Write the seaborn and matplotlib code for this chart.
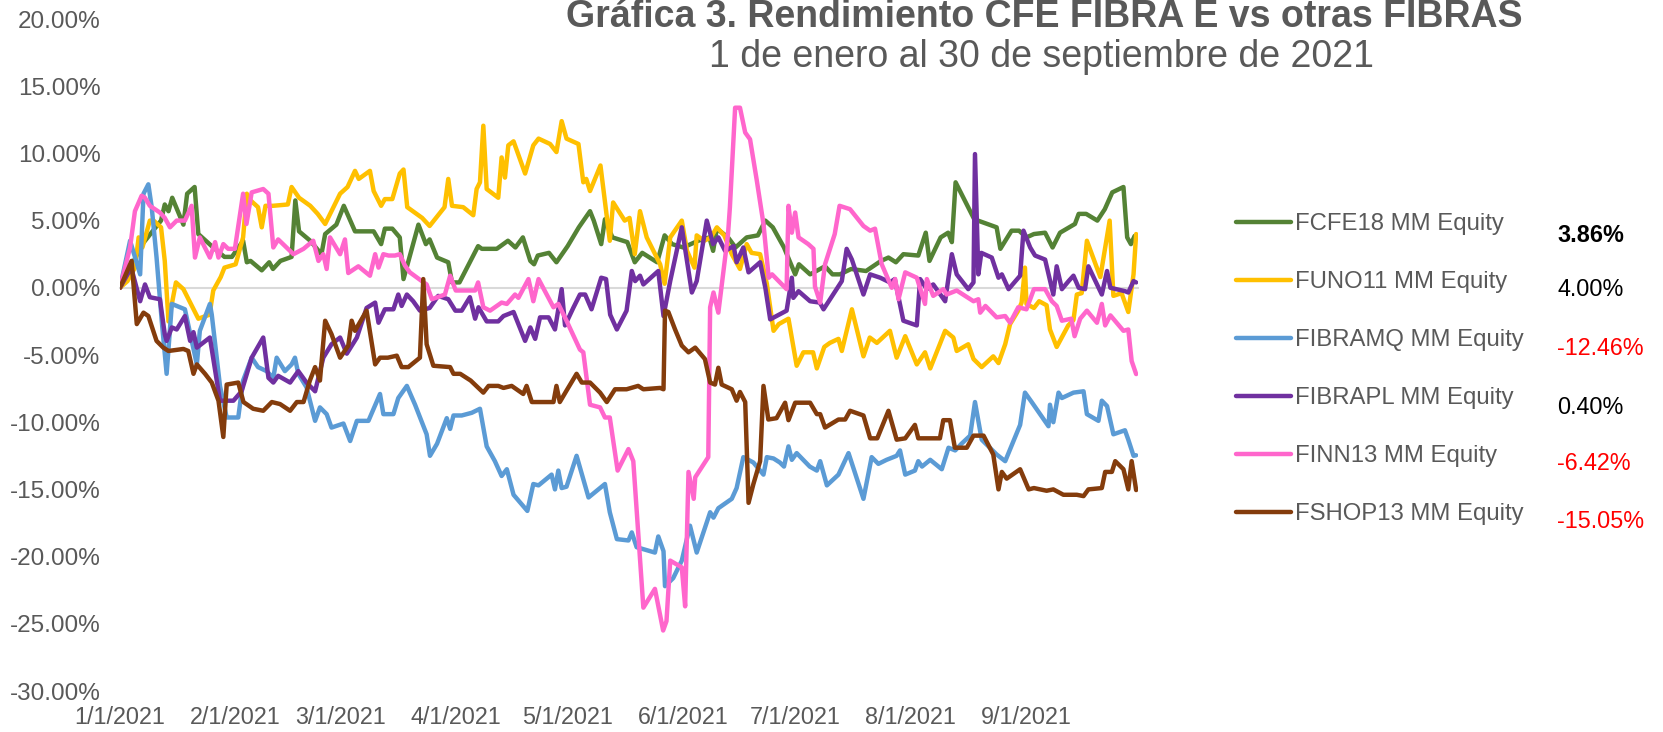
import pandas as pd
import matplotlib.pyplot as plt
import matplotlib.dates as mdates
import matplotlib.ticker as mtick
import seaborn as sns

start = pd.Timestamp('2021-01-01')

series_names = ['FCFE18 MM Equity', 'FUNO11 MM Equity', 'FIBRAMQ MM Equity',
                'FIBRAPL MM Equity', 'FINN13 MM Equity', 'FSHOP13 MM Equity']
colors = ['#548235', '#FFC000', '#5B9BD5', '#7030A0', '#FF66CC', '#843C0C']
final_returns = ['3.86%', '4.00%', '-12.46%', '0.40%', '-6.42%', '-15.05%']
final_colors = ['black', 'black', '#FF0000', 'black', '#FF0000', '#FF0000']

# days since 1/1/2021 and cumulative return (%)
fcfe18_days = [0, 6, 11, 12, 13, 14, 17, 18, 20, 21, 23, 25, 28, 30, 33, 34, 35, 38, 40, 41, 43, 46, 47, 48, 51,
               54, 55, 58, 60, 63, 68, 70, 71, 73, 75, 76, 80, 82, 83, 85, 88, 89, 91, 96, 97, 101, 104, 106, 108,
               110, 111, 112, 115, 117, 120, 123, 126, 127, 129, 130, 132, 136, 138, 140, 144, 146, 148, 151, 155,
               158, 159, 160, 163, 165, 168, 171, 173, 175, 178, 181, 182, 185, 189, 191, 193, 196, 200, 204, 206,
               208, 210, 214, 216, 217, 220, 222, 223, 224, 227, 229, 231, 235, 236, 239, 241, 243, 245, 248, 250,
               252, 256, 257, 259, 262, 264, 266, 269, 270, 271, 272]
fcfe18_vals = [0, 3.25, 5.0, 6.2, 5.7, 6.7, 4.7, 7.0, 7.5, 4.0, 3.5, 3.0, 2.3, 2.3, 3.5, 1.9, 2.0, 1.3, 1.9, 1.4,
               2.0, 2.3, 6.5, 4.2, 3.5, 2.5, 4.0, 4.7, 6.1, 4.2, 4.2, 3.25, 4.4, 4.4, 3.75, 0.65, 4.7, 3.25, 3.6,
               2.25, 1.9, 0.4, 0.4, 3.1, 2.9, 2.9, 3.5, 3.0, 3.75, 2.0, 1.75, 2.4, 2.6, 1.9, 3.1, 4.5, 5.7, 5.0,
               3.25, 5.1, 3.75, 3.4, 1.9, 2.6, 1.9, 3.9, 3.25, 3.0, 3.5, 3.75, 2.75, 4.4, 3.75, 3.0, 3.75, 3.9,
               5.0, 4.5, 3.0, 1.0, 1.75, 1.0, 1.6, 1.0, 1.0, 1.4, 1.25, 2.0, 2.25, 1.9, 2.5, 2.4, 4.1, 2.0, 3.75,
               4.1, 3.4, 7.85, 6.2, 5.1, 4.9, 4.5, 2.9, 4.25, 4.25, 3.75, 4.0, 4.1, 3.0, 4.1, 4.75, 5.5, 5.5, 5.0,
               5.85, 7.1, 7.5, 3.75, 3.25, 3.86]

funo11_days = [0, 2, 4, 5, 6, 8, 9, 11, 12, 13, 15, 17, 19, 21, 24, 25, 27, 28, 31, 33, 34, 35, 37, 38, 39, 41,
               45, 46, 48, 51, 53, 55, 59, 61, 63, 64, 67, 68, 70, 71, 73, 75, 76, 77, 79, 81, 83, 87, 88, 89, 92,
               94.7, 95.6, 96.5, 97.4, 98.3, 101.4, 102.3, 103.2, 104.1, 105.5, 108.6, 110.8, 112.2, 115.3, 117,
               118.4, 119.7, 122.9, 124.2, 125, 126, 128.8, 131.3, 132.2, 135.3, 136.6, 138, 139.4, 141.2, 142.1,
               144.8, 146, 147.5, 150.6, 152, 154, 154.6, 156.6, 158.4, 160, 162, 164, 166.2, 168, 169.3, 171.6,
               173.4, 175.2, 176.6, 179.2, 181.4, 183.2, 185.8, 186.8, 188.8, 190.3, 192.6, 193.5, 196.2, 199.3,
               201, 202.9, 206.4, 208.2, 210.5, 213.6, 215.8, 217.2, 221.2, 223.4, 224.3, 227.4, 228.8, 231, 234.1,
               235.5, 237.3, 238.6, 240.8, 241.7, 242.6, 243, 245, 246.4, 248.4, 249.3, 251.1, 254.2, 255.6, 256.5,
               257.8, 259.2, 262.8, 265.3, 266.3, 268.5, 270.3, 271.7, 272.4]
funo11_vals = [0, 0.5, 1.5, 3.75, 3.0, 5.0, 5.0, 4.5, 2.0, -2.5, 0.4, -0.1, -1.2, -2.3, -2.0, -0.2, 0.8, 1.5, 1.75,
               3.75, 7.0, 6.5, 6.0, 4.5, 6.1, 6.1, 6.2, 7.5, 6.7, 6.1, 5.5, 4.75, 7.0, 7.5, 8.7, 8.1, 8.7, 7.2,
               6.1, 6.6, 6.6, 8.5, 8.8, 6.0, 5.6, 5.2, 4.6, 6.0, 8.1, 6.1, 6.0, 5.4, 7.35, 7.85, 12.06, 7.35, 6.7,
               9.7, 8.2, 10.6, 10.9, 8.5, 10.6, 11.1, 10.7, 10.1, 12.4, 11.1, 10.7, 7.85, 8.1, 7.2, 9.1, 3.5, 6.35,
               5.0, 5.2, 2.5, 5.7, 3.75, 3.25, 1.75, 0.3, 3.75, 5.0, 2.75, 1.5, 3.9, 3.5, 3.75, 4.5, 3.9, 2.5,
               1.4, 3.25, 2.6, 2.5, 0.3, -3.2, -2.7, -2.3, -5.8, -4.8, -4.8, -6.0, -4.4, -4.1, -3.8, -4.7, -1.6,
               -5.1, -3.7, -4.1, -3.2, -5.2, -3.6, -5.7, -4.8, -6.0, -3.2, -3.7, -4.7, -4.2, -5.3, -5.9, -5.1,
               -5.6, -4.2, -2.7, -1.7, -1.1, 1.5, -1.2, -1.5, -1.0, -1.3, -3.1, -4.4, -2.8, -2.4, -0.5, -0.4, 3.5,
               0.8, 5.0, -0.6, -0.4, -1.8, 1.0, 4.0]

fibramq_days = [0, 2.7, 5.4, 6.3, 7.6, 8.5, 9.8, 11.2, 12.5, 13.9, 17.4, 18.8, 20.6, 21.4, 24.1, 24.6, 26.8, 28.6,
                31.7, 33, 35.3, 37, 39.3, 41.1, 42, 44.2, 46, 46.9, 47.8, 50, 52.3, 53.6, 55.4, 56.7, 59.9, 61.7,
                63.5, 66.6, 69.7, 70.6, 73.3, 74.6, 76.9, 79.1, 82.2, 83.1, 85, 87.6, 88.5, 89.4, 91.6, 94.3, 96.5,
                98.3, 100.5, 102.3, 103.7, 105.5, 109.2, 110.8, 112.2, 115.7, 116.6, 117.5, 118.4, 119.7, 122.4,
                125.6, 130, 131.3, 133.2, 136.3, 137.2, 138.5, 143.4, 144.3, 145.7, 146.1, 148.3, 150.6, 152.8,
                154.6, 158.2, 159.1, 160.4, 164, 165.3, 167.1, 169.8, 172.5, 173.4, 175.2, 176.9, 178, 179.2,
                180.1, 181.4, 184.9, 186.8, 187.7, 189.5, 192.6, 195.3, 199.3, 201.5, 203.3, 205.5, 208.2, 209.1,
                210.5, 213.1, 214, 215, 217.2, 220.3, 222.1, 223.9, 225.6, 227.9, 229.2, 231, 235, 237.3, 241.3,
                242.6, 244.4, 248.9, 249.3, 250.2, 251.6, 252.5, 255.6, 258.3, 259.2, 262.3, 263.2, 264.6, 266.3,
                269.4, 270.3, 271.7, 272.4]
fibramq_vals = [0, 3.5, 1.0, 7.0, 7.7, 6.0, 2.25, -2.5, -6.4, -1.2, -1.6, -3.4, -5.7, -3.2, -1.2, -2.0, -7.3, -9.65,
                -9.65, -6.9, -5.2, -5.9, -6.2, -6.7, -5.2, -6.2, -5.7, -5.2, -6.4, -7.4, -9.9, -8.9, -9.4, -10.4,
                -10.1, -11.4, -9.9, -9.9, -7.9, -9.4, -9.4, -8.2, -7.3, -8.7, -10.9, -12.5, -11.6, -9.7, -10.5,
                -9.5, -9.5, -9.3, -9.0, -11.8, -12.9, -14.0, -13.5, -15.4, -16.6, -14.6, -14.7, -13.9, -15.0,
                -13.6, -14.9, -14.8, -12.5, -15.6, -14.6, -16.7, -18.7, -18.8, -18.2, -19.3, -19.7, -18.5, -19.6,
                -22.2, -21.6, -20.3, -17.7, -19.7, -16.7, -17.1, -16.4, -15.7, -14.9, -12.6, -13.0, -13.9, -12.6,
                -12.7, -13.0, -13.3, -11.8, -12.8, -12.3, -13.3, -13.6, -12.9, -14.7, -13.9, -12.3, -15.7, -12.6,
                -13.1, -12.8, -12.5, -12.1, -13.9, -13.6, -12.9, -13.3, -12.8, -13.5, -11.9, -12.1, -11.6, -11.0,
                -8.5, -11.3, -12.4, -12.9, -10.2, -7.8, -8.5, -10.3, -8.7, -10.0, -7.8, -8.2, -7.8, -7.7, -9.4,
                -9.9, -8.4, -8.8, -10.9, -10.6, -11.3, -12.5, -12.46]

fibrapl_days = [0, 3, 5.4, 6.7, 8, 10.7, 12, 12.5, 13.9, 15.2, 17.4, 18.8, 19.7, 20.6, 24.1, 26.8, 30.4, 32.6, 35.3,
                38.4, 39.8, 41.1, 42.4, 45.6, 47.8, 50, 52.3, 54.5, 56.7, 59, 60.8, 63.5, 66.1, 68.4, 69.3, 71,
                73.3, 74.6, 75.5, 76.9, 78.6, 80.4, 83, 85.3, 88, 89.9, 91.6, 93.8, 95.2, 96.1, 98.3, 101.4, 102.8,
                105.5, 108.6, 110, 111.3, 112.6, 114.9, 116.6, 118.4, 119.3, 121.5, 123.3, 124.7, 126.4, 129,
                130.3, 131.4, 133.2, 135.8, 137.2, 138.1, 139.4, 140.3, 144.3, 145.7, 147.5, 150.6, 153.3, 154.6,
                157.3, 159, 160.4, 162.2, 164.5, 165.3, 167.1, 168.5, 171.6, 173, 174.3, 178.7, 180.1, 180.5,
                181.9, 185, 187.6, 188.6, 193.5, 194.8, 196.2, 199.3, 201.1, 203.8, 206.4, 207.7, 210, 213.6,
                214.5, 216.3, 218, 221.2, 223, 224.3, 227.4, 228.8, 229.2, 230.1, 230.9, 233.7, 235.5, 236.4,
                238.2, 241.3, 242.2, 244, 245.3, 248, 250.2, 251.1, 252.5, 254.3, 255.6, 257, 258.7, 259.6, 263.2,
                264.6, 265.5, 269.4, 270.3, 271.7, 272.4]
fibrapl_vals = [0, 1.5, -1.0, 0.25, -0.7, -0.85, -3.45, -3.95, -2.95, -3.1, -2.1, -3.95, -3.3, -4.45, -3.7, -8.4,
                -8.4, -7.7, -5.2, -3.7, -6.7, -7.05, -6.55, -7.05, -6.2, -7.05, -7.7, -5.2, -4.2, -3.7, -4.9, -3.7,
                -1.5, -1.1, -2.6, -1.6, -1.6, -0.5, -1.35, -0.5, -1.0, -1.7, -1.5, -0.6, -0.85, -1.7, -1.7, -0.7,
                -2.3, -1.45, -2.5, -2.5, -2.1, -1.8, -3.95, -2.95, -3.8, -2.2, -2.2, -3.1, -0.1, -2.8, -1.5, -0.5,
                -0.5, -1.6, 0.75, 0.65, -2.0, -3.1, -1.7, 1.25, 0.5, 0.9, 0.25, 1.25, -2.1, 0.5, 4.5, -0.35, 0.5,
                5.0, 3.25, 3.75, 2.75, 3.1, 1.9, 3.0, 1.15, 1.9, 0.0, -2.35, -1.7, 0.75, -0.75, -0.25, -1.0, -1.1,
                -1.6, 0.5, 2.9, 2.1, -0.5, 1.0, 0.75, 0.4, 0.65, -2.45, -2.8, 0.65, -0.1, 0.25, -1.0, 2.5, 1.0,
                -0.1, 0.4, 9.95, 1.0, 2.6, 2.25, 0.75, 1.0, -0.1, 0.9, 4.25, 3.0, 2.4, 2.1, -0.5, 1.6, -0.1, 0.5,
                0.9, 0.0, -0.1, 1.6, -0.5, 1.25, 0.0, -0.25, -0.35, 0.5, 0.40]

finn13_days = [0, 2.7, 4, 5.8, 6.7, 8, 10.7, 12, 13.4, 15.2, 17.4, 19.2, 20.1, 21.4, 24.1, 25.5, 26.4, 27.7, 29,
               30.8, 33, 33.9, 35.3, 38.4, 39.8, 41.1, 42.4, 46.5, 49.2, 51.8, 53.2, 54.5, 55.4, 56.3, 59, 60.3,
               61.2, 63.9, 67, 68.4, 69.3, 70.6, 72, 73.7, 75, 76.4, 77.7, 80.9, 82.2, 83.6, 87.1, 88.5, 90, 95.2,
               96, 97.4, 99.2, 102.3, 103.7, 105.9, 106.8, 109.5, 110.8, 112.2, 114.4, 116.2, 117.5, 119.7, 123.3,
               124.2, 126, 128.7, 130, 131.3, 133.4, 136.3, 137.6, 140.3, 143.4, 145.6, 146.5, 147.5, 150.6,
               151.5, 152.4, 153.8, 154.2, 157.7, 158.2, 159.1, 160.4, 163, 163.5, 164.9, 166.2, 167.6, 168.9,
               170.7, 172.5, 173.9, 174.8, 178.7, 179.2, 180.1, 181, 181.9, 184.5, 185.9, 186.3, 187.7, 189,
               191.6, 192.9, 195.7, 199.3, 201.1, 202.4, 204.2, 206.9, 207.8, 208.7, 210.5, 213.6, 215.8, 216.3,
               218, 220.7, 221.6, 224.3, 228.8, 230.1, 230.6, 232, 235, 237.3, 238.6, 240.8, 243, 245, 248, 249.8,
               251.1, 252.5, 255, 255.9, 257.4, 259.2, 261.9, 263.2, 264.1, 265.5, 269, 270.3, 271.2, 272.4]
finn13_vals = [0, 3.0, 5.7, 6.85, 6.7, 6.1, 5.6, 5.2, 4.5, 5.0, 5.0, 6.1, 2.25, 3.75, 2.25, 3.4, 2.25, 3.25, 2.9,
               2.9, 7.0, 4.75, 7.1, 7.35, 7.0, 3.0, 3.6, 2.5, 2.9, 3.5, 2.0, 2.5, 1.4, 3.75, 2.5, 3.6, 1.1, 1.6,
               0.9, 2.5, 1.5, 2.5, 2.4, 2.4, 2.5, 1.65, 1.15, 0.5, 0.25, -0.85, -0.5, 0.9, -0.2, -0.2, 0.4, -1.45,
               -1.7, -1.1, -1.2, -0.5, -0.75, 0.65, -1.0, 0.65, -0.5, -1.45, -1.2, -2.45, -4.6, -4.8, -8.7, -8.9,
               -9.65, -9.65, -13.6, -12.0, -12.9, -23.8, -22.4, -25.5, -24.8, -20.3, -20.8, -23.7, -13.7, -15.7,
               -14.1, -12.6, -1.45, -0.35, -1.85, 4.0, 6.0, 13.4, 13.4, 11.55, 11.05, 8.0, 4.75, 0.75, 1.0, -0.1,
               6.1, 4.1, 5.6, 3.75, 3.25, 2.9, 0.1, -1.1, 1.75, 4.0, 6.1, 5.85, 4.6, 4.25, 4.4, 1.75, 0.0, 0.65,
               -0.85, 1.15, 0.75, -1.2, 0.65, -0.6, -0.1, -0.5, -0.2, -1.0, -0.85, -1.85, -1.35, -2.2, -2.1, -2.6,
               -1.45, -1.6, -0.1, -0.1, -1.0, -1.35, -2.45, -2.3, -3.6, -2.3, -1.7, -2.6, -1.2, -2.8, -2.05, -3.2,
               -3.1, -5.45, -6.42]

fshop13_days = [0, 3.1, 4.5, 6.3, 7.6, 9.8, 11.6, 13, 17, 18.3, 19.7, 20.6, 22.8, 24.6, 26.4, 27.7, 28.6, 31.7,
                33.1, 35.7, 38.4, 40.7, 42.9, 45.6, 47.4, 49.2, 50.9, 52.3, 53.6, 55, 56.7, 59, 61.2, 62.1, 63,
                66.1, 68.4, 69.7, 71.8, 74.2, 75.5, 77.3, 80.4, 81.3, 82.2, 84, 88.5, 89.4, 91.2, 94, 97.4, 98.8,
                101.4, 102.8, 105, 108.1, 109, 110.4, 116.2, 117, 117.9, 119.7, 122.4, 123.8, 126, 128.7, 130.5,
                132.7, 135.8, 138.9, 140.3, 144.8, 145.7, 146.1, 147, 148.8, 150.6, 152.4, 154.2, 156.8, 158.2,
                159.5, 160.4, 161.3, 164, 165.3, 166.2, 167.6, 168.5, 169.8, 171.6, 172.5, 173.8, 176, 178.3,
                179.2, 181, 185, 186.8, 187.7, 189, 192.6, 194.4, 195.7, 199.3, 201.1, 203, 206, 208.2, 210.5,
                213.1, 214, 219.8, 220.7, 222.5, 223.8, 227, 228.8, 231.5, 234.1, 235.5, 236.4, 237.7, 241.3,
                243.6, 245, 248.4, 250.2, 252.9, 256.5, 258.3, 259.6, 263.2, 264.1, 265.9, 266.8, 269, 270.3,
                271.2, 272.4]
fshop13_vals = [0, 2.0, -2.7, -1.85, -2.1, -3.95, -4.45, -4.7, -4.55, -4.7, -6.4, -5.7, -6.4, -7.05, -8.4, -11.1,
                -7.2, -7.05, -8.5, -9.0, -9.15, -8.5, -8.65, -9.15, -8.5, -8.5, -6.9, -5.9, -6.9, -2.45, -3.45,
                -5.2, -4.3, -2.45, -3.2, -1.7, -5.7, -5.2, -5.2, -5.05, -5.9, -5.9, -5.2, 0.65, -4.2, -5.8, -5.9,
                -6.4, -6.4, -6.9, -7.8, -7.3, -7.3, -7.45, -7.3, -7.9, -7.3, -8.5, -8.5, -7.3, -8.5, -7.65, -6.4,
                -7.05, -7.05, -7.8, -8.5, -7.55, -7.55, -7.3, -7.55, -7.45, -7.55, -1.7, -1.8, -3.1, -4.3, -4.8,
                -4.45, -5.3, -7.05, -7.2, -5.95, -7.2, -7.55, -8.4, -7.75, -8.5, -16.0, -14.6, -12.9, -7.3, -9.8,
                -9.7, -8.55, -9.85, -8.55, -8.55, -9.4, -9.4, -10.4, -9.8, -9.8, -9.15, -9.5, -11.2, -11.2, -9.15,
                -11.3, -11.2, -10.2, -11.2, -11.2, -9.85, -9.85, -11.9, -11.9, -11.0, -11.0, -12.4, -15.0, -13.7,
                -14.2, -13.5, -15.0, -14.9, -15.1, -15.0, -15.4, -15.4, -15.5, -15.0, -14.9, -13.7, -13.7, -12.9,
                -13.5, -15.0, -12.9, -15.05]

all_days = [fcfe18_days, funo11_days, fibramq_days, fibrapl_days, finn13_days, fshop13_days]
all_vals = [fcfe18_vals, funo11_vals, fibramq_vals, fibrapl_vals, finn13_vals, fshop13_vals]

frames = []
for name, d, v in zip(series_names, all_days, all_vals):
    frames.append(pd.DataFrame({'fecha': start + pd.to_timedelta(d, unit='D'),
                                'rend': v, 'serie': name}))
df = pd.concat(frames, ignore_index=True)

sns.set_style('white')
plt.rcParams['font.family'] = ['Liberation Sans', 'DejaVu Sans']
grey = '#595959'

fig = plt.figure(figsize=(16.63, 7.32), dpi=100)
ax = fig.add_axes([120 / 1663, 41 / 732, 1018 / 1663, 672 / 732])

sns.lineplot(data=df, x='fecha', y='rend', hue='serie', hue_order=series_names,
             palette=colors, linewidth=3.2, estimator=None, sort=False,
             legend=False, ax=ax)
handles = list(ax.get_lines())

ax.set_ylim(-30, 20)
ax.set_yticks(range(-30, 21, 5))
ax.yaxis.set_major_formatter(mtick.FuncFormatter(lambda v, _: f'{v:.2f}%'))
ax.set_xlim(start, start + pd.Timedelta(days=272.9))
ax.set_xlabel('')
ax.set_ylabel('')

for s in ['top', 'right', 'left']:
    ax.spines[s].set_visible(False)
ax.spines['bottom'].set_position(('data', 0))
ax.spines['bottom'].set_color('#D9D9D9')
ax.spines['bottom'].set_linewidth(1.5)
ax.spines['bottom'].set_zorder(0)

ax.xaxis.set_major_locator(mdates.MonthLocator())
ax.tick_params(axis='x', direction='out', length=6, width=1.5, color='#D9D9D9',
               labelbottom=False)
ax.tick_params(axis='y', length=0, pad=14, labelsize=17.5, labelcolor=grey)

# date labels sit at the bottom of the plot, not on the zero line
sec = ax.secondary_xaxis('bottom')
sec.xaxis.set_major_locator(mdates.MonthLocator())
sec.xaxis.set_major_formatter(mtick.FuncFormatter(
    lambda x, _: '{d.month}/{d.day}/{d.year}'.format(d=mdates.num2date(x))))
sec.spines['bottom'].set_visible(False)
sec.tick_params(axis='x', length=0, pad=11, labelsize=16.8, labelcolor=grey)

fig.text(0.628, 1 - 27 / 732, 'Gráfica 3. Rendimiento CFE FIBRA E vs otras FIBRAS',
         ha='center', va='baseline', fontsize=27, fontweight='bold', color=grey)
fig.text(0.626, 1 - 67 / 732, '1 de enero al 30 de septiembre de 2021',
         ha='center', va='baseline', fontsize=27, color=grey)

fig.legend(handles=handles, labels=series_names, loc='upper left',
           bbox_to_anchor=(1236 / 1663, 1 - 213 / 732), frameon=False,
           fontsize=17.2, labelcolor=grey, handlelength=2.3, handletextpad=0.15,
           labelspacing=1.51, borderpad=0, borderaxespad=0)

value_y = [235, 290, 349, 408, 463, 521]
for txt, c, yy in zip(final_returns, final_colors, value_y):
    fig.text(1557 / 1663, 1 - yy / 732, txt, ha='left', va='center', fontsize=16.8,
             color=c, fontweight='bold' if txt == '3.86%' else 'normal')

plt.savefig('out.png', dpi=100)
